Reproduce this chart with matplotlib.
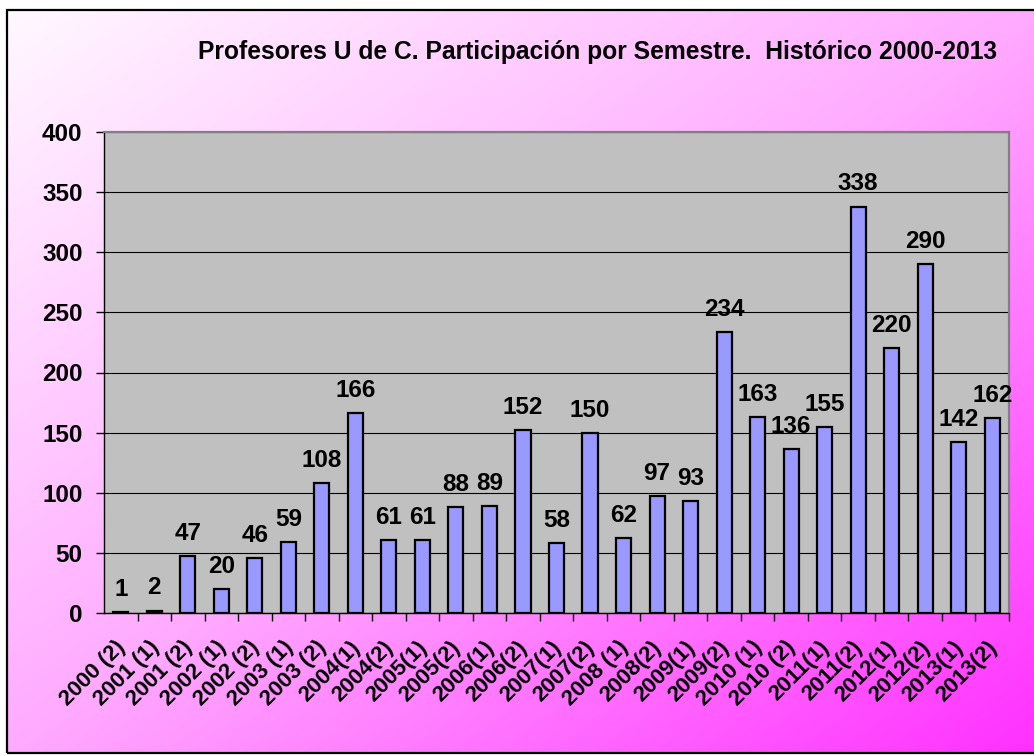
import numpy as np
import matplotlib
matplotlib.use("Agg")
import matplotlib.pyplot as plt
import matplotlib.transforms as mtransforms
from matplotlib.colors import LinearSegmentedColormap
from matplotlib.patches import Rectangle

plt.rcParams['font.family'] = ['Liberation Sans', 'DejaVu Sans']
plt.rcParams['font.weight'] = 'bold'

semesters = ["2000 (2)", "2001 (1)", "2001 (2)", "2002 (1)", "2002 (2)", "2003 (1)",
             "2003 (2)", "2004(1)", "2004(2)", "2005(1)", "2005(2)", "2006(1)",
             "2006(2)", "2007(1)", "2007(2)", "2008 (1)", "2008(2)", "2009(1)",
             "2009(2)", "2010 (1)", "2010 (2)", "2011(1)", "2011(2)", "2012(1)",
             "2012(2)", "2013(1)", "2013(2)"]
profesores = [1, 2, 47, 20, 46, 59, 108, 166, 61, 61, 88, 89, 152, 58, 150,
              62, 97, 93, 234, 163, 136, 155, 338, 220, 290, 142, 162]
title = "Profesores U de C. Participación por Semestre.  Histórico 2000-2013"

W, H = 1034, 755
FS = 17.5
fig = plt.figure(figsize=(W / 100, H / 100), dpi=100)

# gradient background inside the outer frame
fl, ft, fr, fb = 7, 10, 1040, 753
bg = fig.add_axes([fl / W, 1 - fb / H, (fr - fl) / W, (fb - ft) / H], zorder=-5)
gx, gy = np.meshgrid(np.linspace(0, 1, 300), np.linspace(0, 1, 300))
cmap = LinearSegmentedColormap.from_list("pk", ["#fff8ff", "#ffaaff", "#ff30ff"])
bg.imshow((gx + gy) / 2, cmap=cmap, aspect="auto", extent=[0, 1, 1, 0], vmin=0, vmax=1)
bg.set_axis_off()
fig.patches.append(Rectangle((fl / W, 1 - fb / H), (fr - fl) / W, (fb - ft) / H,
                             transform=fig.transFigure, fill=False,
                             edgecolor="black", linewidth=1.6, zorder=10))

# plot area
pl, pt, pr, pb = 104, 132, 1009, 613
ax = fig.add_axes([pl / W, 1 - pb / H, (pr - pl) / W, (pb - pt) / H])
ax.set_facecolor("#c0c0c0")
x = np.arange(len(semesters))
ax.bar(x, profesores, width=0.45, color="#9999ff", edgecolor="black", linewidth=1.6, zorder=3)
for xi, v in zip(x, profesores):
    ax.annotate(str(v), (xi, v), xytext=(0, 8), textcoords="offset points",
                ha="center", va="bottom", fontsize=FS, fontweight="bold")

ax.set_xlim(-0.5, len(semesters) - 0.5)
ax.set_ylim(0, 400)
ax.set_yticks(range(0, 401, 50))
ax.tick_params(axis="y", labelsize=FS, length=5.5, width=1, direction="out", pad=10)
ax.yaxis.grid(True, color="black", linewidth=0.8, zorder=0)
ax.set_axisbelow(True)

ax.set_xticks(x + 0.5, minor=False)
ax.set_xticklabels([])
ax.tick_params(axis="x", which="major", length=5.5, width=1, direction="out")
ax.set_xticks(x, minor=True)
ax.set_xticklabels(semesters, minor=True, rotation=45, ha="right",
                   rotation_mode="anchor", fontsize=16, fontweight="bold")
ax.tick_params(axis="x", which="minor", length=0, pad=12)
shift = mtransforms.ScaledTranslation(-6 / 100, -7 / 100, fig.dpi_scale_trans)
for lbl in ax.get_xticklabels(minor=True):
    lbl.set_transform(lbl.get_transform() + shift)

for s in ["top", "right"]:
    ax.spines[s].set_color("#808080")
    ax.spines[s].set_linewidth(1.6)
for s in ["left", "bottom"]:
    ax.spines[s].set_color("black")
    ax.spines[s].set_linewidth(1.0)

fig.text(598 / W, 1 - 52 / H, title, ha="center", va="center",
         fontsize=17.7, fontweight="bold")

fig.savefig("out.png", dpi=100)
